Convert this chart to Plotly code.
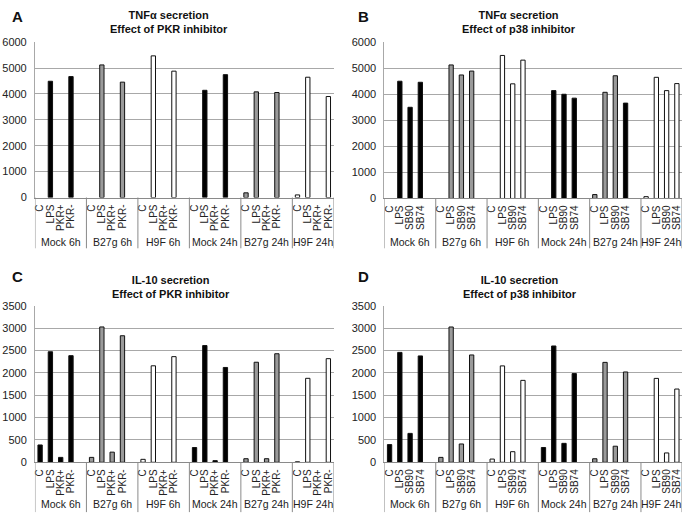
import plotly.graph_objects as go

W, H = 686, 523

groups = ["Mock 6h", "B27g 6h", "H9F 6h", "Mock 24h", "B27g 24h", "H9F 24h"]
pkr_labels = ["C", "LPS", "PKR+", "PKR-"]
p38_labels = ["C", "LPS", "SB90", "SB74"]

# values per group: [C, LPS, PKR+ / SB90, PKR- / SB74]
tnf_pkr = [
    [None, 4490, None, 4670],
    [None, 5120, None, 4455],
    [None, 5470, None, 4880],
    [None, 4140, None, 4745],
    [180, 4080, None, 4055],
    [100, 4645, None, 3900],
]
tnf_p38 = [
    [None, 4500, 3500, 4460],
    [None, 5125, 4740, 4890],
    [None, 5490, 4400, 5310],
    [None, 4140, 4000, 3850],
    [150, 4075, 4710, 3660],
    [70, 4650, 4140, 4410],
]
il10_pkr = [
    [388, 2475, 110, 2387],
    [110, 3030, 227, 2833],
    [66, 2160, None, 2365],
    [330, 2613, 37, 2123],
    [80, 2240, 80, 2430],
    [10, 1880, None, 2320],
]
il10_p38 = [
    [396, 2460, 647, 2381],
    [110, 3029, 410, 2403],
    [72, 2158, 237, 1834],
    [331, 2604, 424, 1986],
    [79, 2237, 360, 2022],
    [None, 1878, 209, 1640],
]

group_colors = ["#000000", "#9a9a9a", "#ffffff", "#000000", "#9a9a9a", "#ffffff"]
# (group index, bar index) -> colour override for panel B
tnf_p38_overrides = {(4, 3): "#000000"}

FONT = "Liberation Sans, Arial, sans-serif"
SLOTS = 5  # 4 bars + one empty spacer slot per group (none after the last group)


def build(values, labels, overrides=None):
    overrides = overrides or {}
    xs, ys, cols, tv, tt = [], [], [], [], []
    bounds = [-0.5]
    centers = []
    for gi, g in enumerate(groups):
        start = gi * SLOTS
        for bi, lab in enumerate(labels):
            pos = start + bi
            tv.append(pos)
            tt.append(lab)
            v = values[gi][bi]
            if v is not None:
                xs.append(pos)
                ys.append(v)
                cols.append(overrides.get((gi, bi), group_colors[gi]))
        end = start + (SLOTS if gi < len(groups) - 1 else len(labels)) - 0.5
        centers.append((start - 0.5 + end) / 2)
        bounds.append(end)
    return xs, ys, cols, tv, tt, bounds, centers


def px_x(p):
    return p / W


def px_y(p):
    return 1 - p / H


panels = [
    dict(vals=tnf_pkr, labels=pkr_labels, ov=None, x0=34, x1=333, y0=37, y1=196,
         ymax=6000, dtick=1000, letter="A", lx=17, ly=11, gl=242, dv=248,
         title="TNFα secretion<br>Effect of PKR inhibitor", tx=168, ty=16),
    dict(vals=tnf_p38, labels=p38_labels, ov=tnf_p38_overrides, x0=384, x1=682, y0=37, y1=197,
         ymax=6000, dtick=1000, letter="B", lx=363, ly=11, gl=242, dv=248,
         title="TNFα secretion<br>Effect of p38 inhibitor", tx=519, ty=16),
    dict(vals=il10_pkr, labels=pkr_labels, ov=None, x0=34, x1=333, y0=307, y1=467,
         ymax=3500, dtick=500, letter="C", lx=17, ly=277, gl=510, dv=518,
         title="IL-10 secretion<br>Effect of PKR inhibitor", tx=170, ty=288),
    dict(vals=il10_p38, labels=p38_labels, ov=None, x0=384, x1=682, y0=307, y1=467,
         ymax=3500, dtick=500, letter="D", lx=363, ly=277, gl=510, dv=518,
         title="IL-10 secretion<br>Effect of p38 inhibitor", tx=520, ty=288),
]

fig = go.Figure()
annotations = []
shapes = []
layout_axes = {}
for i, p in enumerate(panels, start=1):
    xs, ys, cols, tv, tt, bounds, centers = build(p["vals"], p["labels"], p["ov"])
    xa = "x" if i == 1 else f"x{i}"
    ya = "y" if i == 1 else f"y{i}"
    fig.add_trace(go.Bar(
        x=xs, y=ys, xaxis=xa, yaxis=ya, width=0.42,
        marker=dict(color=cols, line=dict(color="#111111", width=1)),
        showlegend=False, hoverinfo="y",
    ))
    xk = "xaxis" if i == 1 else f"xaxis{i}"
    yk = "yaxis" if i == 1 else f"yaxis{i}"
    layout_axes[xk] = dict(
        domain=[px_x(p["x0"]), px_x(p["x1"])], anchor=ya,
        range=[bounds[0], bounds[-1]],
        tickmode="array", tickvals=tv, ticktext=tt, tickangle=-90,
        showline=True, linecolor="#8a8a8a", linewidth=1,
        ticks="", showgrid=False, zeroline=False, ticklabelstandoff=2,
        tickfont=dict(family=FONT, size=10, color="#222222"),
    )
    layout_axes[yk] = dict(
        domain=[px_y(p["y1"]), px_y(p["y0"])], anchor=xa,
        range=[0, p["ymax"]], dtick=p["dtick"], tick0=0,
        showgrid=True, gridcolor="#a8a8a8", gridwidth=1,
        showline=True, linecolor="#a8a8a8", linewidth=1,
        zeroline=False, ticks="", ticklabelstandoff=5,
        tickfont=dict(family=FONT, size=11, color="#222222"),
    )
    for b in bounds:
        shapes.append(dict(
            type="line", xref=xa, yref="paper", x0=b, x1=b,
            y0=px_y(p["y1"]), y1=px_y(p["dv"]),
            line=dict(color="#8a8a8a", width=1),
        ))
    for g, c in zip(groups, centers):
        annotations.append(dict(
            text=g, x=c, y=px_y(p["gl"]), xref=xa, yref="paper",
            xanchor="center", yanchor="middle", showarrow=False,
            font=dict(family=FONT, size=10.5, color="#222222"),
        ))
    annotations.append(dict(
        text=f"<b>{p['letter']}</b>", x=px_x(p["lx"]), y=px_y(p["ly"]),
        xref="paper", yref="paper", xanchor="center", yanchor="middle",
        showarrow=False, font=dict(family=FONT, size=15, color="#111111"),
    ))
    annotations.append(dict(
        text=f"<b>{p['title']}</b>", x=px_x(p["tx"]), y=px_y(p["ty"]),
        xref="paper", yref="paper", xanchor="center", yanchor="middle",
        showarrow=False, font=dict(family=FONT, size=11, color="#111111"),
    ))

fig.update_layout(
    width=W, height=H,
    margin=dict(l=0, r=0, t=0, b=0),
    paper_bgcolor="white", plot_bgcolor="white",
    annotations=annotations,
    shapes=shapes,
    **layout_axes,
)

fig.write_html(
    "out.html",
    config={"displayModeBar": False},
    post_script="document.body.style.margin='0';document.body.style.overflow='hidden';",
)
